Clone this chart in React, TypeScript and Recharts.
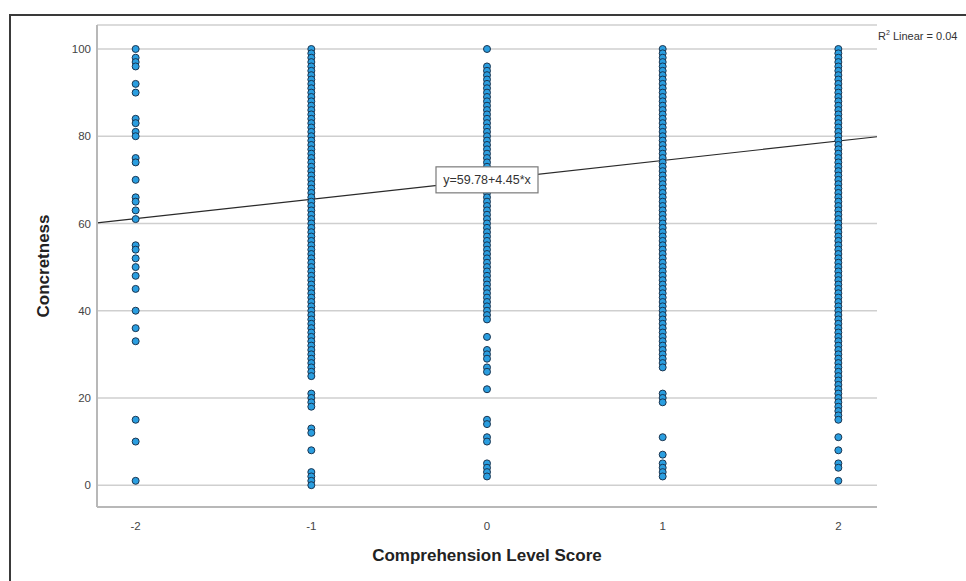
import React from "react";
import {
  ScatterChart,
  Scatter,
  XAxis,
  YAxis,
  CartesianGrid,
  ReferenceLine,
  ReferenceDot,
} from "recharts";

// Comprehension level score categories (x positions)
const comprehensionScores = [-2, -1, 0, 1, 2];
const xTicks = [-2, -1, 0, 1, 2];
const yTicks = [0, 20, 40, 60, 80, 100];

// Concreteness values
const concretenessAtMinus2 = [
  100, 98, 97, 96, 92, 90, 84, 83, 81, 80, 75, 74, 70, 66, 65, 63, 61, 55, 54,
  52, 50, 48, 45, 40, 36, 33, 15, 10, 1,
];
const concretenessAtMinus1 = [
  100, 99, 98, 97, 96, 95, 94, 93, 92, 91, 90, 89, 88, 87, 86, 85, 84, 83, 82,
  81, 80, 79, 78, 77, 76, 75, 74, 73, 72, 71, 70, 69, 68, 67, 66, 65, 64, 63,
  62, 61, 60, 59, 58, 57, 56, 55, 54, 53, 52, 51, 50, 49, 48, 47, 46, 45, 44,
  43, 42, 41, 40, 39, 38, 37, 36, 35, 34, 33, 32, 31, 30, 29, 28, 27, 26, 25,
  21, 20, 19, 18, 13, 12, 8, 3, 2, 1, 0,
];
const concretenessAtZero = [
  100, 96, 95, 94, 93, 92, 91, 90, 89, 88, 87, 86, 85, 84, 83, 82, 81, 80, 79,
  78, 77, 76, 75, 74, 73, 72, 71, 70, 69, 68, 67, 66, 65, 64, 63, 62, 61, 60,
  59, 58, 57, 56, 55, 54, 53, 52, 51, 50, 49, 48, 47, 46, 45, 44, 43, 42, 41,
  40, 39, 38, 34, 31, 30, 29, 27, 26, 22, 15, 14, 11, 10, 5, 4, 3, 2,
];
const concretenessAtPlus1 = [
  100, 99, 98, 97, 96, 95, 94, 93, 92, 91, 90, 89, 88, 87, 86, 85, 84, 83, 82,
  81, 80, 79, 78, 77, 76, 75, 74, 73, 72, 71, 70, 69, 68, 67, 66, 65, 64, 63,
  62, 61, 60, 59, 58, 57, 56, 55, 54, 53, 52, 51, 50, 49, 48, 47, 46, 45, 44,
  43, 42, 41, 40, 39, 38, 37, 36, 35, 34, 33, 32, 31, 30, 29, 28, 27, 21, 20,
  19, 11, 7, 5, 4, 3, 2,
];
const concretenessAtPlus2 = [
  100, 99, 98, 97, 96, 95, 94, 93, 92, 91, 90, 89, 88, 87, 86, 85, 84, 83, 82,
  81, 80, 79, 78, 77, 76, 75, 74, 73, 72, 71, 70, 69, 68, 67, 66, 65, 64, 63,
  62, 61, 60, 59, 58, 57, 56, 55, 54, 53, 52, 51, 50, 49, 48, 47, 46, 45, 44,
  43, 42, 41, 40, 39, 38, 37, 36, 35, 34, 33, 32, 31, 30, 29, 28, 27, 26, 25,
  24, 23, 22, 21, 20, 19, 18, 17, 16, 15, 11, 8, 5, 4, 1,
];

// Fit line as drawn in the plot, and its labels
const fitIntercept = 70.0;
const fitSlope = 4.45;
const equationLabel = "y=59.78+4.45*x";
const r2Value = "0.04";

const xDomain: [number, number] = [-2.22, 2.22];
const yDomain: [number, number] = [-5, 105.5];

const columns = [
  concretenessAtMinus2,
  concretenessAtMinus1,
  concretenessAtZero,
  concretenessAtPlus1,
  concretenessAtPlus2,
];

const points = columns.flatMap((vals, i) =>
  vals.map((v) => ({ x: comprehensionScores[i], y: v }))
);

const FONT = "'Liberation Sans', Arial, sans-serif";

const Dot = (props: any) => {
  const { cx, cy } = props;
  if (cx == null || cy == null) return null;
  return (
    <circle
      cx={cx}
      cy={cy}
      r={3.5}
      fill="#2a9ee0"
      stroke="#1b3550"
      strokeWidth={1}
    />
  );
};

const EquationBox = (props: any) => {
  const { cx, cy } = props;
  if (cx == null || cy == null) return null;
  const w = 102;
  const h = 26;
  return (
    <g>
      <rect
        x={cx - w / 2}
        y={cy - h / 2}
        width={w}
        height={h}
        fill="#ffffff"
        stroke="#7a7a7a"
        strokeWidth={1.2}
      />
      <text
        x={cx}
        y={cy}
        textAnchor="middle"
        dominantBaseline="central"
        fontSize={12.5}
        fontFamily={FONT}
        fill="#333"
      >
        {equationLabel}
      </text>
    </g>
  );
};

const YTitle = (props: any) => {
  const vb = props.viewBox || { x: 0, y: 25, width: 97, height: 482 };
  const cx = vb.x + 43;
  const cy = vb.y + vb.height / 2;
  return (
    <text
      x={cx}
      y={cy}
      transform={`rotate(-90 ${cx} ${cy})`}
      textAnchor="middle"
      dominantBaseline="central"
      fontSize={17}
      fontWeight="bold"
      fontFamily={FONT}
      fill="#222"
    >
      Concretness
    </text>
  );
};

const XTitle = (props: any) => {
  const vb = props.viewBox || { x: 97, y: 507, width: 780, height: 74 };
  const cx = vb.x + vb.width / 2;
  const cy = vb.y + 48;
  return (
    <text
      x={cx}
      y={cy}
      textAnchor="middle"
      dominantBaseline="central"
      fontSize={17}
      fontWeight="bold"
      fontFamily={FONT}
      fill="#222"
    >
      Comprehension Level Score
    </text>
  );
};

export default function App() {
  return (
    <div
      style={{
        position: "absolute",
        left: 0,
        top: 0,
        width: 966,
        height: 581,
        overflow: "hidden",
        background: "#ffffff",
        fontFamily: FONT,
      }}
    >
      <ScatterChart
        width={966}
        height={581}
        margin={{ top: 25, right: 89, bottom: 0, left: 0 }}
      >
        <CartesianGrid
          vertical={false}
          horizontal={true}
          stroke="#cfcfcf"
          strokeWidth={1.5}
        />
        <XAxis
          type="number"
          dataKey="x"
          domain={xDomain}
          ticks={xTicks}
          allowDataOverflow
          height={74}
          tickLine={false}
          tickSize={0}
          tickMargin={15}
          axisLine={{ stroke: "#b8b8b8", strokeWidth: 2 }}
          tick={{ fontSize: 11.5, fill: "#444", fontFamily: FONT }}
          label={<XTitle />}
        />
        <YAxis
          type="number"
          dataKey="y"
          domain={yDomain}
          ticks={yTicks}
          allowDataOverflow
          width={97}
          tickLine={false}
          tickSize={0}
          tickMargin={6}
          axisLine={{ stroke: "#b8b8b8", strokeWidth: 2 }}
          tick={{ fontSize: 11.5, fill: "#444", fontFamily: FONT }}
          label={<YTitle />}
        />
        <Scatter
          data={points}
          shape={<Dot />}
          isAnimationActive={false}
        />
        <ReferenceLine
          segment={[
            { x: xDomain[0], y: fitIntercept + fitSlope * xDomain[0] },
            { x: xDomain[1], y: fitIntercept + fitSlope * xDomain[1] },
          ]}
          stroke="#2a2a2a"
          strokeWidth={1.2}
          ifOverflow="visible"
        />
        <ReferenceDot
          x={0}
          y={fitIntercept}
          r={0}
          shape={<EquationBox />}
          ifOverflow="visible"
        />
      </ScatterChart>
      <div
        style={{
          position: "absolute",
          left: 9,
          top: 14,
          width: 1000,
          height: 600,
          borderLeft: "2px solid #3a3a3a",
          borderTop: "2px solid #3a3a3a",
          pointerEvents: "none",
        }}
      />
      <div
        style={{
          position: "absolute",
          left: 878,
          top: 29,
          fontSize: 11,
          color: "#333",
          whiteSpace: "nowrap",
          lineHeight: "14px",
        }}
      >
        R<sup style={{ fontSize: 7, verticalAlign: "top", lineHeight: "8px" }}>2</sup> Linear = {r2Value}
      </div>
    </div>
  );
}
